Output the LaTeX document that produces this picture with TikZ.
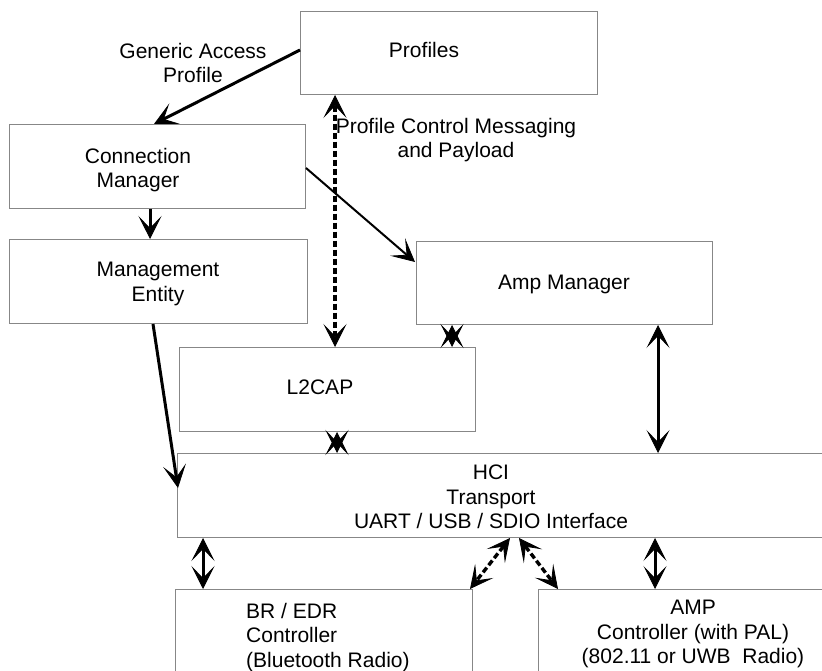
\documentclass[tikz,border=0pt]{standalone}
\usepackage{fontspec}
\setmainfont{Liberation Sans}
\usetikzlibrary{arrows.meta,calc}
\definecolor{boxgray}{RGB}{135,135,135}
\tikzset{
  box/.style={draw=boxgray, line width=1pt, inner sep=0pt, anchor=north west},
  txt/.style={inner sep=0pt, align=center, font=\fontsize{21}{24.5}\selectfont},
  tip/.tip={Stealth[length=23pt,width=23pt,inset=12pt,line width=0.8pt]},
  arr/.style={line width=3pt, -tip},
  thinarr/.style={line width=2pt, -tip},
  darr/.style={line width=3pt, tip-tip},
  dasharr/.style={line width=3.4pt, tip-tip, dash pattern=on 6pt off 3pt},
}
\begin{document}
\begin{tikzpicture}[x=1pt,y=-1pt]
\useasboundingbox (0,0) rectangle (822,671);
\fill[white] (0,0) rectangle (822,671);
\clip (0,0) rectangle (822,671);
% boxes
\node[box, minimum width=297pt, minimum height=83pt] (prof) at (300,11) {};
\node[box, minimum width=296pt, minimum height=84pt] (cm) at (9,124) {};
\node[box, minimum width=298pt, minimum height=84pt] (me) at (9,239) {};
\node[box, minimum width=296pt, minimum height=83pt] (amgr) at (416,241) {};
\node[box, minimum width=296pt, minimum height=84pt] (l2cap) at (179,347) {};
\node[box, minimum width=700pt, minimum height=84pt] (hci) at (177,453) {};
\node[box, minimum width=297pt, minimum height=120pt] (bredr) at (175,589) {};
\node[box, minimum width=330pt, minimum height=120pt] (amp) at (538,589) {};
% texts
\node[txt, anchor=north] (tprof) at (424,42) {Profiles};
\node[txt, anchor=north] (tgap) at (193,43) {Generic Access\\Profile};
\node[txt, anchor=north] (tpcm) at (456,118) {Profile Control Messaging\\and Payload};
\node[txt, anchor=north] (tcm) at (138,148) {Connection\\Manager};
\node[txt, anchor=north] (tme) at (158,262) {Management\\Entity};
\node[txt, anchor=north] (tamgr) at (564,275) {Amp Manager};
\node[txt, anchor=north] (tl2) at (320,380) {L2CAP};
\node[txt, anchor=north] (thci) at (491,465) {HCI\\Transport\\UART / USB / SDIO Interface};
\node[txt, anchor=north west, align=left] (tbr) at (246,603) {BR / EDR\\Controller\\(Bluetooth Radio)};
\node[txt, anchor=north] (tamp) at (693,600) {AMP\\Controller (with PAL)\\(802.11 or UWB\ \ Radio)};
% connectors
\draw[arr] ($(prof.north west)+(0,39)$) -- ($(cm.north west)+(145,0)$);
\draw[arr] ($(cm.south west)+(141,0)$) -- ($(me.north west)+(141,0)$);
\draw[thinarr] ($(cm.north east)+(0,44)$) -- ($(amgr.north west)+(-1,21)$);
\draw[dasharr] ($(prof.south west)+(35,0)$) -- ($(l2cap.north west)+(156,0)$);
\draw[arr] ($(me.south west)+(144,0)$) -- ($(hci.north west)+(1,35)$);
\draw[darr] ($(amgr.south west)+(36,0)$) -- ($(l2cap.north west)+(273,0)$);
\draw[darr] ($(l2cap.south west)+(158,0)$) -- ($(hci.north west)+(160,0)$);
\draw[darr] ($(amgr.south west)+(242,0)$) -- ($(hci.north west)+(481,0)$);
\draw[darr] ($(hci.south west)+(26,0)$) -- ($(bredr.north west)+(28,0)$);
\draw[dasharr] ($(hci.south west)+(333,0)$) -- ($(bredr.north west)+(295,0)$);
\draw[dasharr] ($(hci.south west)+(342,0)$) -- ($(amp.north west)+(20,0)$);
\draw[darr] ($(hci.south west)+(478,0)$) -- ($(amp.north west)+(117,0)$);
\end{tikzpicture}
\end{document}
